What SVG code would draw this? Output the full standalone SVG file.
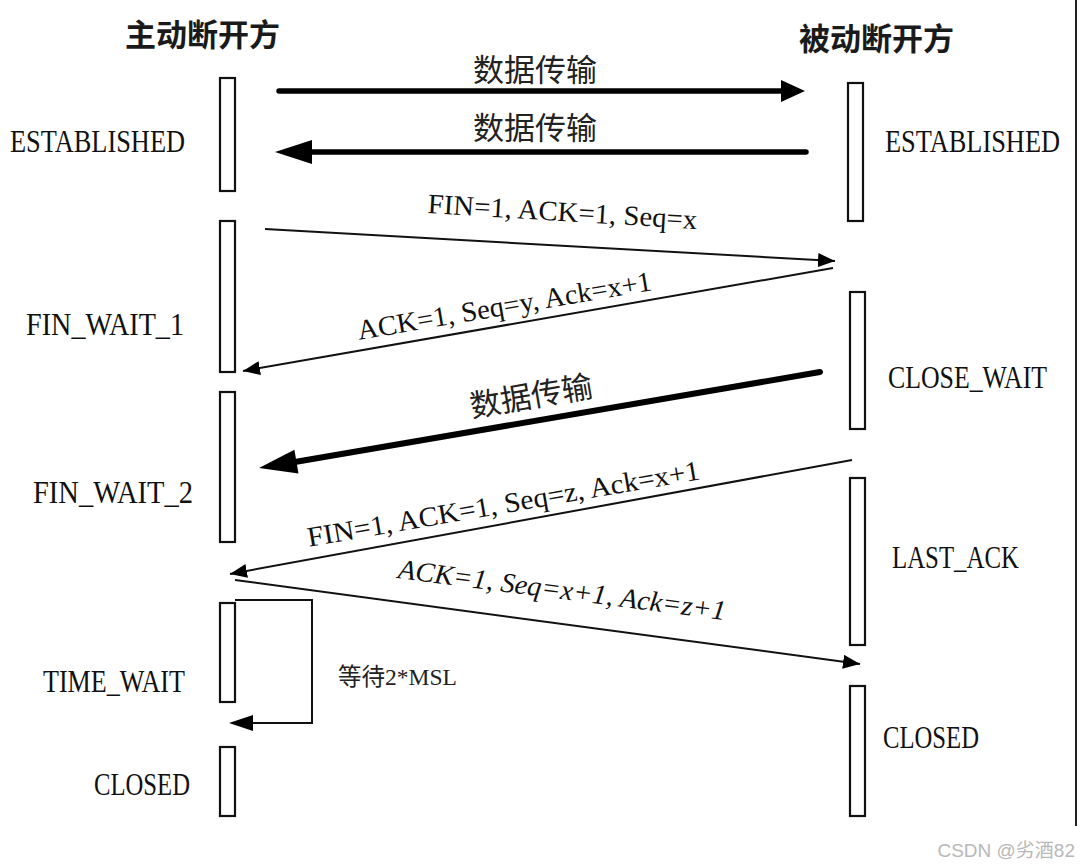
<svg xmlns="http://www.w3.org/2000/svg" width="1080" height="866" viewBox="0 0 1080 866">
<defs>
<style>
.bar{fill:#fff;stroke:#111;stroke-width:2.2}
.st{font-family:"Liberation Serif",serif;font-size:27px;fill:#111}
.lb{font-family:"Liberation Serif",serif;font-size:28px;fill:#111}
.cn{font-family:"Noto Sans CJK SC",sans-serif;font-size:31px;fill:#222}
.title{font-family:"Noto Sans CJK SC",sans-serif;font-size:31px;font-weight:bold;fill:#1a1a1a}
.thin{stroke:#111;stroke-width:2;fill:none}
.thick{stroke:#000;stroke-width:5.5;fill:none;stroke-linecap:round}
.head{fill:#000}
</style>
<marker id="ah" markerUnits="userSpaceOnUse" markerWidth="20" markerHeight="16" refX="17" refY="7" orient="auto"><path d="M0,0 L17,7 L0,14 z" fill="#000"/></marker>
</defs>
<rect width="1080" height="866" fill="#fff"/>
<line x1="1076" y1="0" x2="1076" y2="826" stroke="#222" stroke-width="2"/>

<g id="title-active"><text class="title" x="125" y="46">主动断开方</text></g>
<g id="title-passive"><text class="title" x="799" y="50">被动断开方</text></g>

<g id="a-established"><rect class="bar" x="220" y="78" width="15" height="113"/><text class="st" transform="translate(10 152) scale(1 1.18)" textLength="175" lengthAdjust="spacingAndGlyphs">ESTABLISHED</text></g>
<g id="a-fin-wait-1"><rect class="bar" x="220" y="221" width="15" height="151"/><text class="st" transform="translate(26 335) scale(1 1.18)" textLength="158" lengthAdjust="spacingAndGlyphs">FIN_WAIT_1</text></g>
<g id="a-fin-wait-2"><rect class="bar" x="220" y="392" width="15" height="150"/><text class="st" transform="translate(33 503) scale(1 1.18)" textLength="160" lengthAdjust="spacingAndGlyphs">FIN_WAIT_2</text></g>
<g id="a-time-wait"><rect class="bar" x="220" y="603" width="15" height="99"/><text class="st" transform="translate(43 692) scale(1 1.18)" textLength="142" lengthAdjust="spacingAndGlyphs">TIME_WAIT</text></g>
<g id="a-closed"><rect class="bar" x="220" y="747" width="15" height="69"/><text class="st" transform="translate(94 795) scale(1 1.18)" textLength="96" lengthAdjust="spacingAndGlyphs">CLOSED</text></g>

<g id="p-established"><rect class="bar" x="848" y="83" width="15" height="138"/><text class="st" transform="translate(885 152) scale(1 1.18)" textLength="175" lengthAdjust="spacingAndGlyphs">ESTABLISHED</text></g>
<g id="p-close-wait"><rect class="bar" x="850" y="292" width="15" height="137"/><text class="st" transform="translate(888 388) scale(1 1.18)" textLength="159" lengthAdjust="spacingAndGlyphs">CLOSE_WAIT</text></g>
<g id="p-last-ack"><rect class="bar" x="850" y="478" width="15" height="167"/><text class="st" transform="translate(892 568) scale(1 1.18)" textLength="127" lengthAdjust="spacingAndGlyphs">LAST_ACK</text></g>
<g id="p-closed"><rect class="bar" x="850" y="686" width="15" height="130"/><text class="st" transform="translate(883 748) scale(1 1.18)" textLength="96" lengthAdjust="spacingAndGlyphs">CLOSED</text></g>

<g id="connectors">
<line class="thick" x1="279" y1="91" x2="785" y2="91"/>
<polygon class="head" points="781,80 805,91 781,102"/>
<text class="cn" x="535" y="81" text-anchor="middle">数据传输</text>

<line class="thick" x1="806" y1="152" x2="305" y2="152"/>
<polygon class="head" points="312,140 275,152 312,164"/>
<text class="cn" x="535" y="139" text-anchor="middle">数据传输</text>

<line class="thin" x1="265" y1="229" x2="835" y2="261" marker-end="url(#ah)"/>
<text class="lb" x="562" y="221" text-anchor="middle" textLength="270" lengthAdjust="spacingAndGlyphs" transform="rotate(3.4 562 221)">FIN=1, ACK=1, Seq=x</text>

<line class="thin" x1="833" y1="268" x2="243" y2="371" marker-end="url(#ah)"/>
<text class="lb" x="506" y="315" text-anchor="middle" textLength="298" lengthAdjust="spacingAndGlyphs" transform="rotate(-9.6 506 315)">ACK=1, Seq=y, Ack=x+1</text>

<line class="thick" style="stroke-width:6" x1="820" y1="372" x2="289" y2="463"/>
<polygon class="head" points="259,468 298.5,473.4 294.4,449.8"/>
<text class="cn" x="533" y="407" text-anchor="middle" transform="rotate(-9.7 533 407)">数据传输</text>

<line class="thin" x1="852" y1="460" x2="230" y2="574" marker-end="url(#ah)"/>
<text class="lb" x="505" y="513" text-anchor="middle" textLength="398" lengthAdjust="spacingAndGlyphs" transform="rotate(-9.8 505 513)">FIN=1, ACK=1, Seq=z, Ack=x+1</text>

<line class="thin" x1="235" y1="580" x2="860" y2="664" marker-end="url(#ah)"/>
<text class="lb" x="561" y="599" text-anchor="middle" textLength="330" lengthAdjust="spacingAndGlyphs" font-style="italic" transform="rotate(7.3 561 599)">ACK=1, Seq=x+1, Ack=z+1</text>

<polyline class="thin" points="235,600 312,600 312,723 250,723"/>
<polygon class="head" points="229,723 253,715 253,731"/>
<text x="338" y="685" font-family="Liberation Serif,Noto Sans CJK SC,serif" font-size="24" fill="#222" textLength="119" lengthAdjust="spacingAndGlyphs">等待2*MSL</text>
</g>

<text x="1075" y="857" text-anchor="end" font-family="Liberation Sans,Noto Sans CJK SC,sans-serif" font-size="19" fill="#b8b8b8">CSDN @劣酒82</text>
</svg>
